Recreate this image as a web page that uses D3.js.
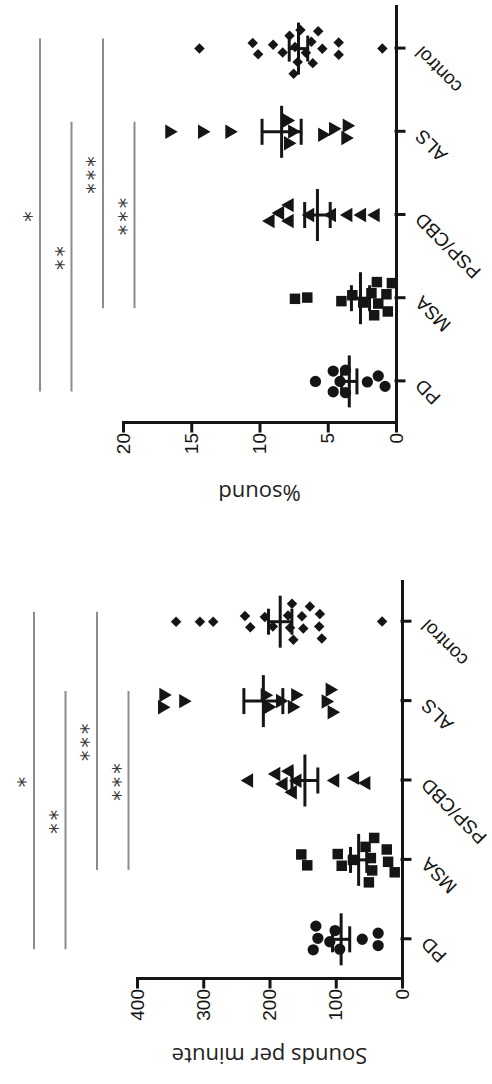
<!DOCTYPE html>
<html>
<head>
<meta charset="utf-8">
<script src="https://cdn.jsdelivr.net/npm/d3@7"></script>
<style>
  body { margin: 0; background: #fff; }
  svg { display: block; }
</style>
</head>
<body>
<div id="chart"></div>
<script>
// groups along the category axis
const groups = ["PD", "MSA", "PSP/CBD", "ALS", "control"];

// sounds per minute, one array per group
const spmPD = [134, 101, 36, 127, 94, 60, 36, 130, 109];
const spmMSA = [143, 152, 91, 97, 74, 55, 50, 47, 45, 42, 21, 23, 11];
const spmPSP = [231, 190, 179, 170, 165, 158, 101, 71, 54];
const spmALS = [362, 360, 330, 207, 202, 184, 166, 161, 115, 109, 106];
const spmControl = [341, 305, 285, 237, 229, 207, 195, 172, 169, 166, 164, 151, 149, 139, 125, 124, 121, 30];

// %sound, one array per group
const pctPD = [5.9, 4.6, 4.6, 4.1, 3.7, 3.7, 2.1, 1.3, 0.8];
const pctMSA = [7.4, 6.5, 4.0, 3.2, 2.4, 1.8, 1.6, 1.4, 1.3, 0.7, 0.6, 0.3];
const pctPSP = [9.2, 8.5, 7.8, 7.8, 6.3, 4.7, 3.5, 2.5, 1.5];
const pctALS = [16.6, 14.2, 12.2, 8.0, 7.9, 7.6, 5.4, 4.6, 3.7, 3.6];
const pctControl = [14.4, 10.5, 10.1, 9.0, 8.3, 7.8, 7.5, 7.4, 7.2, 7.0, 6.6, 6.2, 6.1, 5.7, 5.4, 4.2, 4.2, 1.0];

// tick labels
const spmTicks = [0, 100, 200, 300, 400];
const pctTicks = [0, 5, 10, 15, 20];

// significance brackets: from group, to group, stars
const spmSig = [["PD", "control", "*"], ["PD", "ALS", "**"], ["MSA", "control", "***"], ["MSA", "ALS", "***"]];
const pctSig = [["PD", "control", "*"], ["PD", "ALS", "**"], ["MSA", "control", "***"], ["MSA", "ALS", "***"]];

const W = 492, H = 1084;
const ink = "#151515";
const font = "'Liberation Sans', Arial, sans-serif";

const svg = d3.select("#chart").append("svg")
    .attr("width", W)
    .attr("height", H);

// the figure is drawn upright (1084 wide, 492 tall) and then turned a quarter to the left
const fig = svg.append("g")
    .attr("transform", `translate(0,${H}) rotate(-90)`);

// one symbol per group
const shapes = [
    {type: d3.symbolCircle, size: 100, rot: 0},
    {type: d3.symbolSquare, size: 110, rot: 0},
    {type: d3.symbolTriangle, size: 90, rot: 0},
    {type: d3.symbolTriangle, size: 90, rot: 180},
    {type: d3.symbolSquare, size: 55, rot: 45}
];

function panel(p) {
    const x = d3.scalePoint().domain(groups).range([p.x0, p.x1]).padding(0.5);
    const y = d3.scaleLinear().domain([0, p.max]).range([p.yBottom, p.yTop]);
    const g = fig.append("g");

    // spread the points sideways so they don't sit on each other
    const nodes = [];
    groups.forEach((gr, i) => {
        p.values[i].forEach((v, j) => {
            nodes.push({group: gr, gi: i, value: v, x: x(gr) + (j % 2 ? 1 : -1) * (j + 1) * 0.7, fy: y(v)});
        });
    });
    const sim = d3.forceSimulation(nodes)
        .force("x", d3.forceX(d => x(d.group)).strength(0.06))
        .force("collide", d3.forceCollide(6.2))
        .stop();
    for (let k = 0; k < 300; k++) sim.tick();

    g.append("g")
        .selectAll("path")
        .data(nodes)
        .enter().append("path")
            .attr("d", d => d3.symbol(shapes[d.gi].type, shapes[d.gi].size)())
            .attr("transform", d => `translate(${d.x},${d.fy}) rotate(${shapes[d.gi].rot})`)
            .attr("fill", ink);

    // mean and SEM
    const stats = groups.map((gr, i) => {
        const vals = p.values[i];
        const m = d3.mean(vals);
        const se = d3.deviation(vals) / Math.sqrt(vals.length);
        return {cx: x(gr), m: m, lo: m - se, hi: m + se};
    });
    const bars = g.append("g")
        .attr("stroke", ink)
        .attr("stroke-width", 3);
    stats.forEach(s => {
        bars.append("line").attr("x1", s.cx - 26).attr("x2", s.cx + 26).attr("y1", y(s.m)).attr("y2", y(s.m));
        bars.append("line").attr("x1", s.cx).attr("x2", s.cx).attr("y1", y(s.lo)).attr("y2", y(s.hi));
        bars.append("line").attr("x1", s.cx - 13).attr("x2", s.cx + 13).attr("y1", y(s.lo)).attr("y2", y(s.lo));
        bars.append("line").attr("x1", s.cx - 13).attr("x2", s.cx + 13).attr("y1", y(s.hi)).attr("y2", y(s.hi));
    });

    // value axis
    const yAxis = g.append("g")
        .attr("transform", `translate(${p.x0},0)`)
        .call(d3.axisLeft(y).tickValues(p.ticks).tickSize(8).tickPadding(2).tickSizeOuter(0));

    // group axis
    const xAxis = g.append("g")
        .attr("transform", `translate(0,${p.yBottom})`)
        .call(d3.axisBottom(x).tickSize(8).tickSizeOuter(0));

    [yAxis, xAxis].forEach(a => {
        a.attr("color", ink).attr("font-family", font).attr("font-size", 19);
        a.selectAll("path, line").attr("stroke-width", 3).attr("stroke-linecap", "square");
    });

    xAxis.selectAll(".tick text")
        .attr("x", 0)
        .attr("y", 0)
        .attr("dy", 0)
        .attr("text-anchor", "end")
        .attr("transform", "translate(3,27) rotate(-45)");

    // axis title
    g.append("text")
        .attr("transform", `translate(${p.titleX},${(p.yTop + p.yBottom) / 2}) rotate(-90)`)
        .attr("text-anchor", "middle")
        .attr("font-family", "'Open Sans', sans-serif")
        .attr("font-size", 22)
        .attr("fill", "#222")
        .text(p.title);

    // significance lines
    p.sig.forEach((s, k) => {
        const ly = p.sigY + k * 31.5;
        const xa = x(s[0]) - 10, xb = x(s[1]) + 10;
        g.append("line")
            .attr("x1", xa).attr("x2", xb)
            .attr("y1", ly).attr("y2", ly)
            .attr("stroke", "#8c8c8c")
            .attr("stroke-width", 2);
        g.append("text")
            .attr("x", (xa + xb) / 2)
            .attr("y", ly - 1)
            .attr("text-anchor", "middle")
            .attr("font-family", "'DejaVu Sans', sans-serif")
            .attr("font-size", 21)
            .attr("letter-spacing", 3)
            .attr("fill", "#3a3a3a")
            .text(s[2]);
    });
}

panel({
    values: [spmPD, spmMSA, spmPSP, spmALS, spmControl],
    ticks: spmTicks, max: 400, sig: spmSig,
    x0: 105, x1: 502, yTop: 137, yBottom: 402,
    sigY: 34, titleX: 36, title: "Sounds per minute"
});

panel({
    values: [pctPD, pctMSA, pctPSP, pctALS, pctControl],
    ticks: pctTicks, max: 20, sig: pctSig,
    x0: 661, x1: 1077, yTop: 123, yBottom: 396,
    sigY: 40, titleX: 599, title: "%sound"
});
</script>
</body>
</html>
